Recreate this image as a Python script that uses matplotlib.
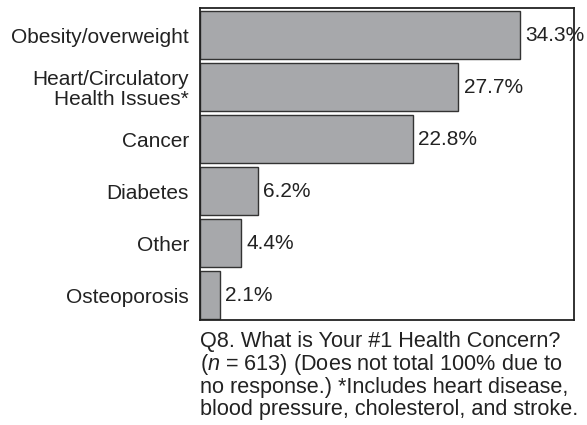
import matplotlib
matplotlib.use("Agg")
import matplotlib.pyplot as plt

plt.rcParams['font.family'] = ['Liberation Sans', 'DejaVu Sans']
plt.rcParams['mathtext.fontset'] = 'custom'
plt.rcParams['mathtext.rm'] = 'Liberation Sans'
plt.rcParams['mathtext.it'] = 'Liberation Sans:italic'

# Health concern survey data
concerns = ["Obesity/overweight", "Heart/Circulatory\nHealth Issues*", "Cancer",
            "Diabetes", "Other", "Osteoporosis"]
percents = [34.3, 27.7, 22.8, 6.2, 4.4, 2.1]

caption = [
    "Q8. What is Your #1 Health Concern?",
    r"($\it{n}$ = 613) (Does not total 100% due to",
    "no response.) *Includes heart disease,",
    "blood pressure, cholesterol, and stroke.",
]

W, H = 587, 425
fig = plt.figure(figsize=(W / 100, H / 100), dpi=100)
ax = fig.add_axes([200 / W, 1 - 320 / H, 374 / W, 312 / H])

ypos = list(range(len(concerns)))[::-1]
ax.barh(ypos, percents, height=0.94, color="#a7a8ab", edgecolor="#333333", linewidth=1.0)

for y, v in zip(ypos, percents):
    ax.annotate(f"{v}%", xy=(v, y), xytext=(4, 0), textcoords="offset points",
                va="center", ha="left", fontsize=15, color="#222222")

ax.set_xlim(0, 40.1)
ax.set_ylim(-0.48, 5.52)
ax.set_xticks([])
ax.set_yticks(ypos)
ax.set_yticklabels(concerns, fontsize=15, color="#222222", linespacing=1.05)
ax.tick_params(axis="y", length=0, pad=8)
for s in ax.spines.values():
    s.set_linewidth(1.3)
    s.set_color("#222222")

baselines = [347, 370, 393, 415]
for line, b in zip(caption, baselines):
    fig.text(200 / W, 1 - b / H, line, fontsize=15.6, color="#222222", va="baseline", ha="left")

fig.savefig("out.png", dpi=100)
